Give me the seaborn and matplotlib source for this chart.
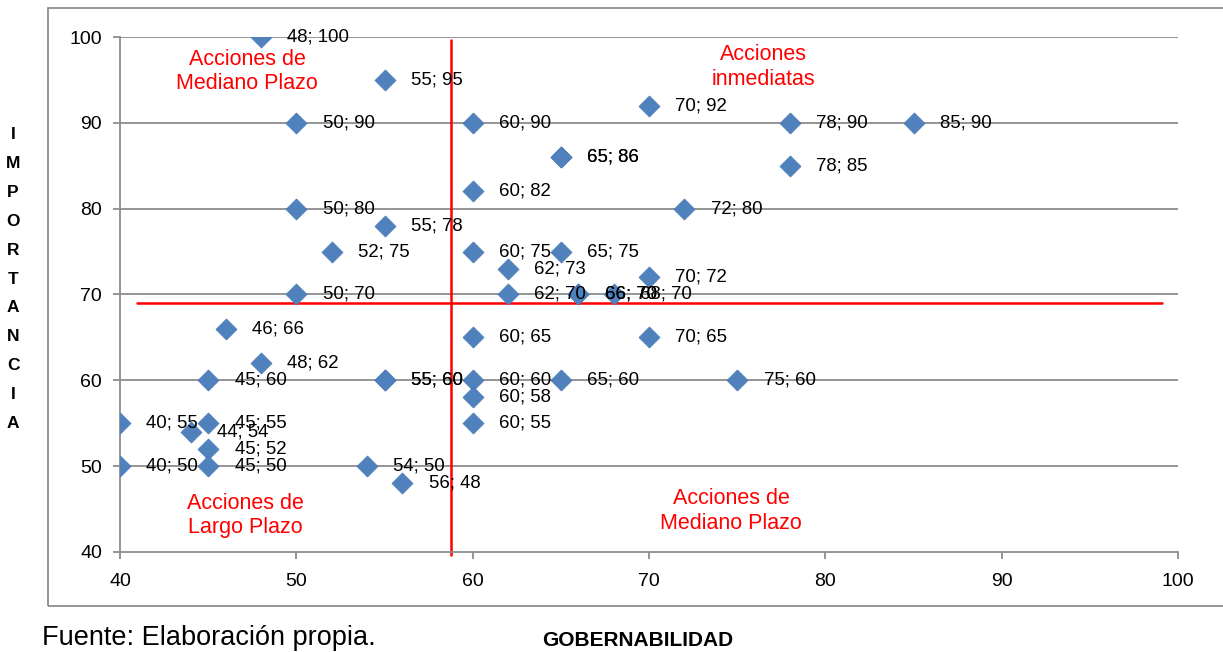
import matplotlib
matplotlib.use("Agg")
import matplotlib.pyplot as plt
import matplotlib.patches as mpatches
import seaborn as sns
import pandas as pd

gobernabilidad = [48, 55, 70, 50, 60, 78, 85, 65, 65, 78, 60, 50, 72, 55, 52, 60, 65, 62, 70,
                  50, 62, 66, 66, 68, 46, 60, 70, 48, 45, 55, 55, 60, 65, 75, 60, 40, 45, 44,
                  45, 60, 40, 45, 54, 56]
importancia = [100, 95, 92, 90, 90, 90, 90, 86, 86, 85, 82, 80, 80, 78, 75, 75, 75, 73, 72,
               70, 70, 70, 70, 70, 66, 65, 65, 62, 60, 60, 60, 60, 60, 60, 58, 55, 55, 54,
               52, 55, 50, 50, 50, 48]

x_ticks = [40, 50, 60, 70, 80, 90, 100]
y_ticks = [40, 50, 60, 70, 80, 90, 100]

quadrant_labels = ["Acciones de\nMediano Plazo", "Acciones\ninmediatas",
                   "Acciones de\nLargo Plazo", "Acciones de\nMediano Plazo"]
quadrant_pos = [(47.2, 96.0), (76.5, 96.5), (47.1, 44.25), (74.67, 44.77)]
v_line_x = 58.77
h_line_y = 69.0

df = pd.DataFrame({"x": gobernabilidad, "y": importancia})

sns.set_theme(style="white")
plt.rcParams["font.family"] = ["Liberation Sans", "DejaVu Sans"]
plt.rcParams["text.color"] = "black"
plt.rcParams["xtick.labelcolor"] = "black"
plt.rcParams["ytick.labelcolor"] = "black"

fig = plt.figure(figsize=(12.23, 6.52), dpi=100)
ax = fig.add_axes([120 / 1223, 1 - 552 / 652, (1178 - 120) / 1223, (552 - 37) / 652])

# outer chart border
border = mpatches.Rectangle((48 / 1223, 1 - 606 / 652), 1.2, (606 - 8) / 652,
                            transform=fig.transFigure, fill=False,
                            edgecolor="#8c8c8c", linewidth=1.3, zorder=0)
fig.patches.append(border)

for yt in y_ticks[1:]:
    ax.axhline(yt, color="#8c8c8c", linewidth=1.3, zorder=1)

sns.scatterplot(data=df, x="x", y="y", marker="D", s=115, color="#4F81BD",
                edgecolor="#4A7AB5", linewidth=0.5, ax=ax, zorder=3)

for xv, yv in zip(gobernabilidad, importancia):
    ax.annotate(f"{xv}; {yv}", (xv, yv), xytext=(19, 0), textcoords="offset points",
                va="center", ha="left", fontsize=13.4, color="black", zorder=4)

ax.plot([v_line_x, v_line_x], [39.7, 99.6], color="#FF0000", linewidth=1.8, zorder=2,
        clip_on=False)
ax.plot([40.96, 99.1], [h_line_y, h_line_y], color="#FF0000", linewidth=1.8, zorder=2)

for txt, (qx, qy) in zip(quadrant_labels, quadrant_pos):
    ax.text(qx, qy, txt, color="#FF0000", fontsize=15.5, ha="center", va="center",
            linespacing=1.2, zorder=4)

ax.set_xlim(40, 100)
ax.set_ylim(40, 100)
ax.set_xticks(x_ticks)
ax.set_yticks(y_ticks)
ax.tick_params(axis="both", labelsize=14, length=5, width=1.3, color="#8c8c8c",
               labelcolor="black", direction="out", bottom=True, left=True, pad=8)
ax.tick_params(axis="x", pad=10)
for side in ["top", "right"]:
    ax.spines[side].set_visible(False)
for side in ["left", "bottom"]:
    ax.spines[side].set_color("#8c8c8c")
    ax.spines[side].set_linewidth(1.3)
ax.set_xlabel("")
ax.set_ylabel("")
ax.grid(False)

fig.text(13 / 1223, 1 - 279 / 652, "\n".join("IMPORTANCIA"), fontsize=12.5,
         fontweight="bold", ha="center", va="center", linespacing=2.16, color="black")
fig.text(638 / 1223, 1 - 641 / 652, "GOBERNABILIDAD", fontsize=15,
         fontweight="bold", ha="center", va="center", color="black")
fig.text(42 / 1223, 1 - 638 / 652, "Fuente: Elaboración propia.", fontsize=19.5,
         ha="left", va="center", color="black")

fig.savefig("out.png", dpi=100)
